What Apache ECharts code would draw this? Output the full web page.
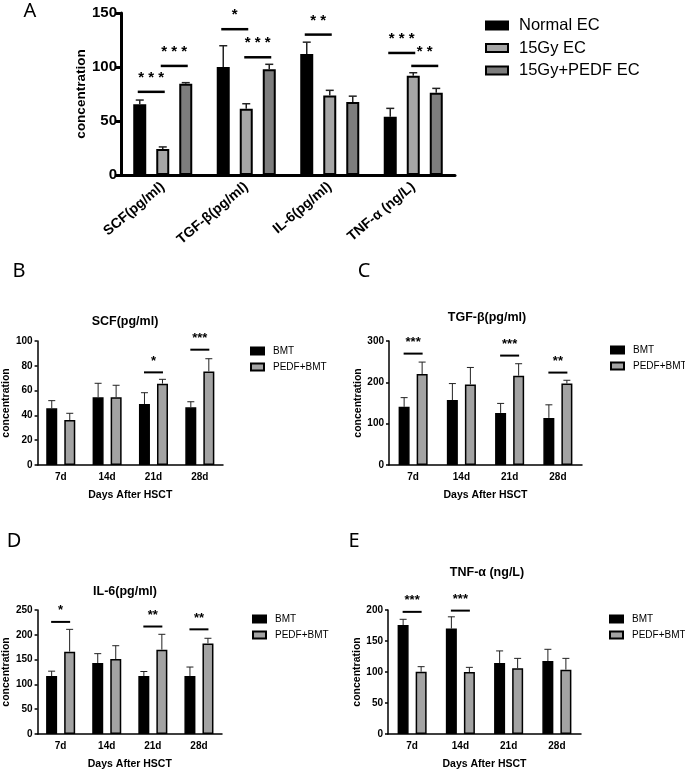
<!DOCTYPE html>
<html><head><meta charset="utf-8">
<script src="https://cdn.jsdelivr.net/npm/echarts@6/dist/echarts.min.js"></script>
<style>html,body{margin:0;padding:0;background:#fff}#c{width:685px;height:771px}</style>
</head><body><div id="c"></div>
<script>
// ---------- Panel A data ----------
const catsA = ['SCF(pg/ml)', 'TGF-β(pg/ml)', 'IL-6(pg/ml)', 'TNF-α (ng/L)'];
const seriesNamesA = ['Normal EC', '15Gy EC', '15Gy+PEDF EC'];
const normalEC = [65.5, 100, 112, 54];
const normalECUpper = [69.4, 119.7, 123, 61.7];
const gy15EC = [24, 61.4, 73.5, 92];
const gy15ECUpper = [26, 66, 78.4, 94.7];
const pedfEC = [84.5, 98, 67.6, 76.2];
const pedfECUpper = [85.5, 102.5, 73, 80.2];
// [category, fromSlot, toSlot, value, label]
const sigA = [[0,0,1,77,'***'],[0,1,2,101,'***'],[1,0,1,135,'*'],[1,1,2,109,'***'],[2,0,1,130,'**'],[3,0,1,113,'***'],[3,1,2,101,'**']];
const ticksA = [0, 50, 100, 150];

// ---------- Panels B-E data ----------
const days = ['7d', '14d', '21d', '28d'];
const groupNames = ['BMT', 'PEDF+BMT'];
const scfBMT = [45.7, 54.6, 49.2, 46.5];
const scfBMTUpper = [51.9, 65.9, 58.3, 51];
const scfPEDF = [36.3, 54.6, 65.6, 75.5];
const scfPEDFUpper = [41.7, 64.3, 69.1, 85.7];
const scfSig = [[2, 74.7, '*'], [3, 93, '***']];

const tgfBMT = [140.7, 157, 126, 114];
const tgfBMTUpper = [163, 197, 149, 145.6];
const tgfPEDF = [220, 195, 216, 197];
const tgfPEDFUpper = [249, 236, 245, 205];
const tgfSig = [[0, 269.5, '***'], [2, 264.7, '***'], [3, 223.6, '**']];

const il6BMT = [116.7, 143, 116.7, 116.7];
const il6BMTUpper = [126.7, 162, 126, 135];
const il6PEDF = [166, 151, 170, 182.7];
const il6PEDFUpper = [211, 178, 201, 193];
const il6Sig = [[0, 226, '*'], [2, 216.7, '**'], [3, 211, '**']];

const tnfBMT = [175.8, 170, 114.5, 117.7];
const tnfBMTUpper = [185, 189, 134, 136.6];
const tnfPEDF = [100.5, 100, 106, 103.8];
const tnfPEDFUpper = [108.6, 107.5, 122, 122];
const tnfSig = [[0, 197, '***'], [1, 199, '***']];

// ---------- helpers ----------
const FONT = 'Liberation Sans, Arial, sans-serif';
function errSeries(g, means, uppers, slot, nSlots, pitch, capHalf, lw) {
  return {
    type: 'custom', xAxisIndex: g, yAxisIndex: g, silent: true, z: 5,
    data: means.map((m, i) => [i, m, uppers[i]]),
    renderItem: function (params, api) {
      const p0 = api.coord([api.value(0), api.value(1)]);
      const p1 = api.coord([api.value(0), api.value(2)]);
      const x = p0[0] + (slot - (nSlots - 1) / 2) * pitch;
      const st = { stroke: '#222', lineWidth: lw };
      return { type: 'group', children: [
        { type: 'line', shape: { x1: x, y1: p0[1], x2: x, y2: p1[1] }, style: st },
        { type: 'line', shape: { x1: x - capHalf, y1: p1[1], x2: x + capHalf, y2: p1[1] }, style: st }
      ]};
    }
  };
}
function spaced(s) { return s.split('').join(' '); }
function sigSeriesA(g, list, nSlots, pitch) {
  return {
    type: 'custom', xAxisIndex: g, yAxisIndex: g, silent: true, z: 6,
    data: list.map(s => [s[0], s[3], s[1], s[2]]),
    renderItem: function (params, api) {
      const p = api.coord([api.value(0), api.value(1)]);
      const mid = (api.value(2) + api.value(3)) / 2;
      const cx = p[0] + (mid - (nSlots - 1) / 2) * pitch;
      const half = 13.5;
      return { type: 'group', children: [
        { type: 'line', shape: { x1: cx - half, y1: p[1], x2: cx + half, y2: p[1] }, style: { stroke: '#000', lineWidth: 2.5 } },
        { type: 'text', style: { text: spaced(list[params.dataIndex][4]), x: cx, y: p[1] - 14, textAlign: 'center', textVerticalAlign: 'middle', font: 'bold 15px ' + FONT, fill: '#000' } }
      ]};
    }
  };
}
function sigSeries(g, list) {
  return {
    type: 'custom', xAxisIndex: g, yAxisIndex: g, silent: true, z: 6,
    data: list.map(s => [s[0], s[1]]),
    renderItem: function (params, api) {
      const p = api.coord([api.value(0), api.value(1)]);
      const half = 9.5;
      return { type: 'group', children: [
        { type: 'line', shape: { x1: p[0] - half, y1: p[1], x2: p[0] + half, y2: p[1] }, style: { stroke: '#000', lineWidth: 2 } },
        { type: 'text', style: { text: list[params.dataIndex][2], x: p[0], y: p[1] - 11, textAlign: 'center', textVerticalAlign: 'middle', font: 'bold 13px ' + FONT, fill: '#000' } }
      ]};
    }
  };
}
function smallX(g) {
  return { type: 'category', gridIndex: g, data: days,
    axisLine: { lineStyle: { color: '#000', width: 1.5 } },
    axisTick: { alignWithLabel: true, length: 4, lineStyle: { color: '#000', width: 1.5 } },
    axisLabel: { color: '#000', fontFamily: FONT, fontWeight: 'bold', fontSize: 10, margin: 7 },
    name: 'Days After HSCT', nameLocation: 'middle', nameGap: 25,
    nameTextStyle: { color: '#000', fontFamily: FONT, fontWeight: 'bold', fontSize: 10.5 } };
}
function smallY(g, max, interval, gap) {
  return { type: 'value', gridIndex: g, min: 0, max: max, interval: interval,
    axisLine: { show: true, lineStyle: { color: '#000', width: 1.5 } },
    axisTick: { show: true, length: 3, lineStyle: { color: '#000', width: 1.5 } },
    splitLine: { show: false },
    axisLabel: { color: '#000', fontFamily: FONT, fontWeight: 'bold', fontSize: 10, margin: 5 },
    name: 'concentration', nameLocation: 'middle', nameGap: gap,
    nameTextStyle: { color: '#000', fontFamily: FONT, fontWeight: 'bold', fontSize: 10.5 } };
}
const BLACK = { color: '#000', borderColor: '#000', borderWidth: 1.5 };
const GRAY = { color: '#a3a3a3', borderColor: '#000', borderWidth: 1.5 };
function smallBars(g, bmt, pedf) {
  return [
    { name: groupNames[0], type: 'bar', xAxisIndex: g, yAxisIndex: g, data: bmt, barWidth: 11, barGap: '64%', itemStyle: BLACK },
    { name: groupNames[1], type: 'bar', xAxisIndex: g, yAxisIndex: g, data: pedf, barWidth: 11, barGap: '64%', itemStyle: GRAY }
  ];
}
function smallLegend(left, top) {
  return { data: groupNames, orient: 'vertical', left: left, top: top, padding: 0, icon: 'rect', itemWidth: 13, itemHeight: 7, itemGap: 6,
    textStyle: { color: '#000', fontFamily: FONT, fontSize: 10, padding: [0, 0, 0, 4] }, selectedMode: false };
}
function txt(t, x, y, font) {
  return { type: 'text', x: x, y: y, style: { text: t, textAlign: 'center', textVerticalAlign: 'middle', font: font, fill: '#000' } };
}

const pA = 23;
const option = {
  animation: false,
  backgroundColor: '#fff',
  grid: [
    { left: 121, top: 13, width: 334, height: 162 },
    { left: 36, top: 341, width: 187, height: 124 },
    { left: 389, top: 341, width: 193, height: 124 },
    { left: 37, top: 610, width: 185, height: 125 },
    { left: 388, top: 610, width: 193, height: 124 }
  ],
  xAxis: [
    { type: 'category', gridIndex: 0, data: catsA,
      axisLine: { lineStyle: { color: '#000', width: 3 } },
      axisTick: { alignWithLabel: true, length: 7, lineStyle: { color: '#000', width: 3 } },
      axisLabel: { color: '#000', fontFamily: FONT, fontWeight: 'bold', fontSize: 14, rotate: 40, margin: 10, interval: 0 } },
    smallX(1), smallX(2), smallX(3), smallX(4)
  ],
  yAxis: [
    { type: 'value', gridIndex: 0, min: ticksA[0], max: ticksA[ticksA.length - 1], interval: ticksA[1] - ticksA[0],
      axisLine: { show: true, lineStyle: { color: '#000', width: 3 } },
      axisTick: { show: true, length: 6, lineStyle: { color: '#000', width: 3 } },
      splitLine: { show: false },
      axisLabel: { color: '#000', fontFamily: FONT, fontWeight: 'bold', fontSize: 15, margin: 4 },
      name: 'concentration', nameLocation: 'middle', nameGap: 33,
      nameTextStyle: { color: '#000', fontFamily: FONT, fontWeight: 'bold', fontSize: 13.5 } },
    smallY(1, 100, 20, 24), smallY(2, 300, 100, 21), smallY(3, 250, 50, 24), smallY(4, 200, 50, 21)
  ],
  legend: [
    { data: seriesNamesA, orient: 'vertical', left: 485, top: 17, padding: 0, icon: 'rect', itemWidth: 22, itemHeight: 8, itemGap: 5.5,
      textStyle: { color: '#000', fontFamily: FONT, fontSize: 16.5, padding: [0, 0, 0, 6] }, selectedMode: false },
    smallLegend(250, 346), smallLegend(610, 345), smallLegend(252, 614), smallLegend(609, 614)
  ],
  graphic: [
    txt('A', 30, 11, '20px Noto Sans'),
    txt('B', 19, 271, '20px Noto Sans'),
    txt('C', 364, 271, '20px Noto Sans'),
    txt('D', 14, 541, '20px Noto Sans'),
    txt('E', 354, 541, '20px Noto Sans'),
    txt('SCF(pg/ml)', 125, 322, 'bold 12.5px ' + FONT),
    txt('TGF-β(pg/ml)', 487, 318, 'bold 12.5px ' + FONT),
    txt('IL-6(pg/ml)', 125, 592, 'bold 12.5px ' + FONT),
    txt('TNF-α (ng/L)', 487, 573, 'bold 12.5px ' + FONT)
  ],
  series: [
    { name: seriesNamesA[0], type: 'bar', xAxisIndex: 0, yAxisIndex: 0, data: normalEC, barWidth: 13, barGap: '77%', itemStyle: { color: '#000', borderColor: '#000', borderWidth: 2 } },
    { name: seriesNamesA[1], type: 'bar', xAxisIndex: 0, yAxisIndex: 0, data: gy15EC, barWidth: 13, barGap: '77%', itemStyle: { color: '#a6a6a6', borderColor: '#000', borderWidth: 2 } },
    { name: seriesNamesA[2], type: 'bar', xAxisIndex: 0, yAxisIndex: 0, data: pedfEC, barWidth: 13, barGap: '77%', itemStyle: { color: '#7d7d7d', borderColor: '#000', borderWidth: 2 } },
    errSeries(0, normalEC, normalECUpper, 0, 3, pA, 4, 1.5),
    errSeries(0, gy15EC, gy15ECUpper, 1, 3, pA, 4, 1.5),
    errSeries(0, pedfEC, pedfECUpper, 2, 3, pA, 4, 1.5),
    sigSeriesA(0, sigA, 3, pA),
    ...smallBars(1, scfBMT, scfPEDF),
    errSeries(1, scfBMT, scfBMTUpper, 0, 2, 18, 3.5, 1),
    errSeries(1, scfPEDF, scfPEDFUpper, 1, 2, 18, 3.5, 1),
    sigSeries(1, scfSig),
    ...smallBars(2, tgfBMT, tgfPEDF),
    errSeries(2, tgfBMT, tgfBMTUpper, 0, 2, 18, 3.5, 1),
    errSeries(2, tgfPEDF, tgfPEDFUpper, 1, 2, 18, 3.5, 1),
    sigSeries(2, tgfSig),
    ...smallBars(3, il6BMT, il6PEDF),
    errSeries(3, il6BMT, il6BMTUpper, 0, 2, 18, 3.5, 1),
    errSeries(3, il6PEDF, il6PEDFUpper, 1, 2, 18, 3.5, 1),
    sigSeries(3, il6Sig),
    ...smallBars(4, tnfBMT, tnfPEDF),
    errSeries(4, tnfBMT, tnfBMTUpper, 0, 2, 18, 3.5, 1),
    errSeries(4, tnfPEDF, tnfPEDFUpper, 1, 2, 18, 3.5, 1),
    sigSeries(4, tnfSig)
  ]
};
const chart = echarts.init(document.getElementById('c'), null, { renderer: 'canvas' });
chart.setOption(option);
</script>
</body></html>
